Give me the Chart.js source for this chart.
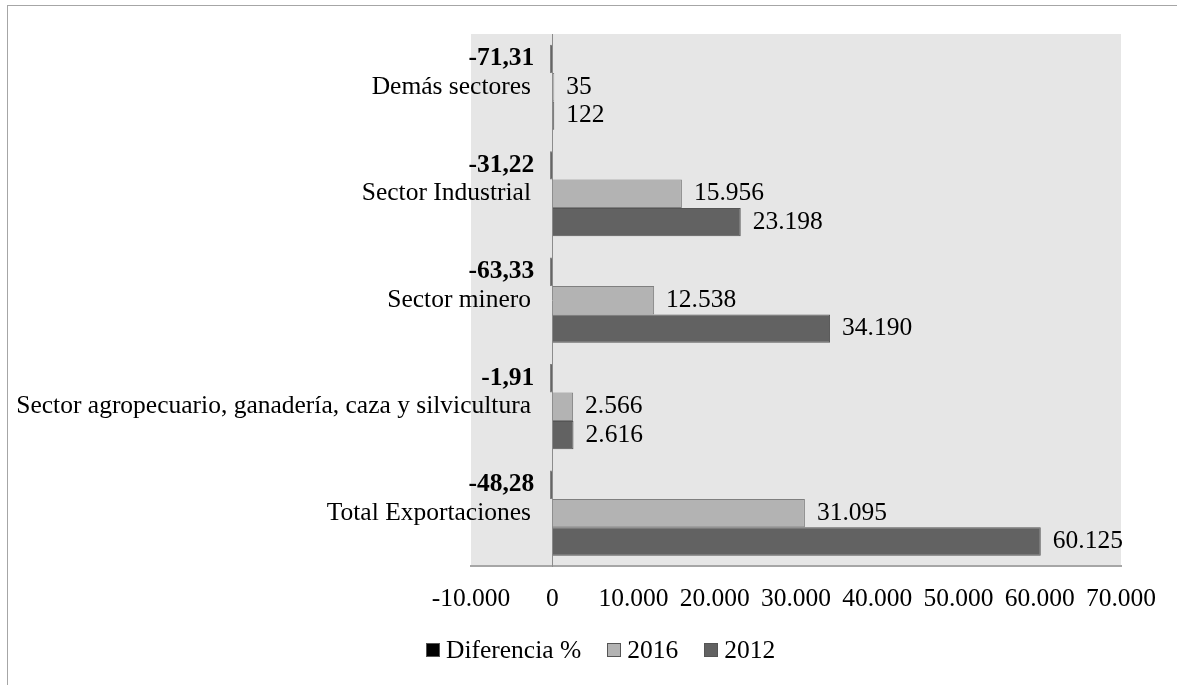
<!DOCTYPE html>
<html>
<head>
<meta charset="utf-8">
<script src="https://cdn.jsdelivr.net/npm/chart.js@4.4.1/dist/chart.umd.min.js"></script>
<style>
  html, body { margin: 0; padding: 0; overflow: hidden; background: #fff; }
  #frame { position: absolute; left: 7px; top: 5px; width: 1200px; height: 720px; border: 1px solid #a6a6a6; }
  #wrap { position: absolute; left: 0; top: 0; width: 1177px; height: 685px; }
  #legend { position: absolute; left: 426px; top: 635px; display: flex; align-items: center;
            font-family: "Liberation Serif", "Times New Roman", serif; font-size: 25.5px; line-height: 30px; color: #000; }
  #legend .item { display: flex; align-items: center; margin-right: 26px; }
  #legend .box { width: 12px; height: 12px; margin-right: 6px; border: 1px solid #555; }
</style>
</head>
<body>
<div id="frame"></div>
<div id="wrap"><canvas id="chart" width="1177" height="685"></canvas></div>
<div id="legend"></div>
<script>
const FONT = '"Liberation Serif", "Times New Roman", serif';
const SIZE = 25.5;

// data
const categories = [
  "Demás sectores",
  "Sector Industrial",
  "Sector minero",
  "Sector agropecuario, ganadería, caza y silvicultura",
  "Total Exportaciones"
];
const diferencia = [-71.31, -31.22, -63.33, -1.91, -48.28];
const valores2016 = [35, 15956, 12538, 2566, 31095];
const valores2012 = [122, 23198, 34190, 2616, 60125];
const xTicks = [-10000, 0, 10000, 20000, 30000, 40000, 50000, 60000, 70000];

function miles(n){
  const s = String(Math.abs(Math.round(n))).replace(/\B(?=(\d{3})+(?!\d))/g, ".");
  return (n < 0 ? "-" : "") + s;
}

function pct(n){
  return n.toFixed(2).replace(".", ",");
}

const plotBg = {
  id: "plotBg",
  beforeDraw(chart){
    const { ctx, chartArea: a } = chart;
    ctx.save();
    ctx.fillStyle = "#e6e6e6";
    ctx.fillRect(a.left, a.top, a.right - a.left, a.bottom - a.top);
    ctx.restore();
  }
};

const valueLabels = {
  id: "valueLabels",
  afterDatasetsDraw(chart){
    const ctx = chart.ctx;
    const zeroX = chart.scales.x.getPixelForValue(0);
    chart.data.datasets.forEach((ds, i) => {
      const meta = chart.getDatasetMeta(i);
      meta.data.forEach((bar, j) => {
        const v = ds.data[j];
        ctx.save();
        ctx.fillStyle = "#000";
        ctx.textBaseline = "middle";
        if (i === 0){
          ctx.font = "bold " + SIZE + "px " + FONT;
          ctx.textAlign = "right";
          ctx.fillText(pct(v), zeroX - 18, bar.y);
        } else {
          ctx.font = SIZE + "px " + FONT;
          ctx.textAlign = "left";
          ctx.fillText(miles(v), bar.x + 12, bar.y);
        }
        ctx.restore();
      });
    });
  }
};

const chart = new Chart(document.getElementById("chart"), {
  type: "bar",
  data: {
    labels: categories,
    datasets: [
      { label: "Diferencia %", data: diferencia, backgroundColor: "#000000", borderColor: "#333333" },
      { label: "2016", data: valores2016, backgroundColor: "#b3b3b3", borderColor: "#7f7f7f" },
      { label: "2012", data: valores2012, backgroundColor: "#626262", borderColor: "#555555" }
    ]
  },
  options: {
    indexAxis: "y",
    responsive: false,
    animation: false,
    devicePixelRatio: 1,
    layout: { padding: { left: 471, right: 56, top: 34, bottom: 54 } },
    datasets: {
      bar: {
        categoryPercentage: 0.8,
        barPercentage: 1.0,
        borderWidth: 1,
        minBarLength: 2
      }
    },
    plugins: {
      legend: { display: false },
      tooltip: { enabled: false }
    },
    scales: {
      x: {
        min: -10000,
        max: 70000,
        afterBuildTicks: (scale) => { scale.ticks = xTicks.map(v => ({ value: v })); },
        // invisible tick marks only to push the labels down
        grid: { display: true, drawOnChartArea: false, drawTicks: true, tickLength: 2, color: "rgba(0,0,0,0)" },
        border: { display: true, color: "#a6a6a6", width: 2 },
        ticks: {
          color: "#000",
          font: { family: FONT, size: SIZE },
          padding: 16,
          maxRotation: 0,
          autoSkip: false,
          callback: (v) => miles(v)
        }
      },
      y: {
        position: { x: 0 },
        grid: { display: false, drawTicks: false },
        border: { display: true, color: "#8c8c8c", width: 1 },
        ticks: {
          color: "#000",
          font: { family: FONT, size: SIZE },
          autoSkip: false,
          // axis sits at x = 0, where tick padding is not applied: keep the gap with spacing
          callback: (v, i) => categories[i] + "\u2002\u2004"
        }
      }
    }
  },
  plugins: [plotBg, valueLabels]
});

// legend built from the chart's datasets
const legend = document.getElementById("legend");
chart.data.datasets.forEach((ds) => {
  const item = document.createElement("div");
  item.className = "item";
  const box = document.createElement("span");
  box.className = "box";
  box.style.background = ds.backgroundColor;
  const txt = document.createElement("span");
  txt.textContent = ds.label;
  item.appendChild(box);
  item.appendChild(txt);
  legend.appendChild(item);
});
</script>
</body>
</html>
